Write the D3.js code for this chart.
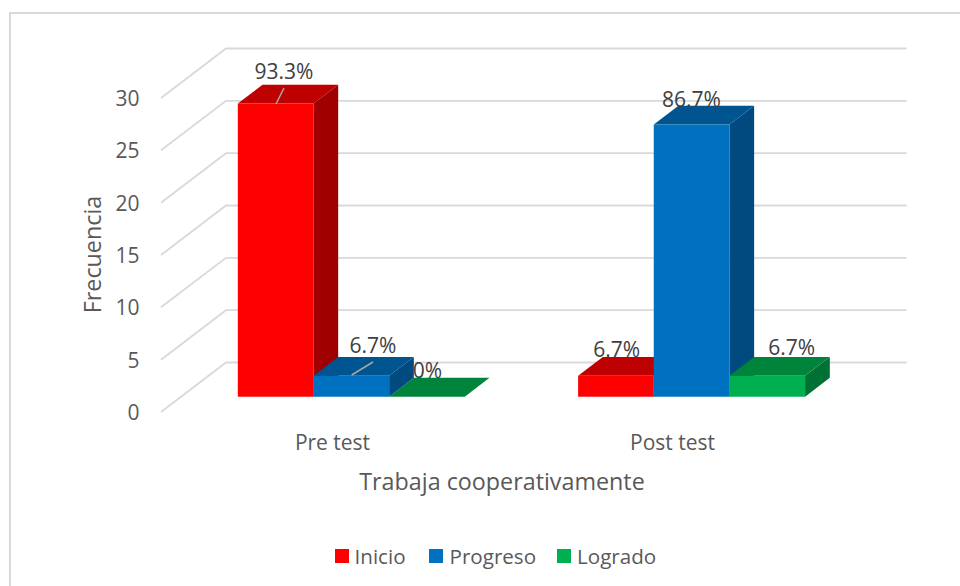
<!DOCTYPE html>
<html><head><meta charset="utf-8">
<script src="https://cdn.jsdelivr.net/npm/d3@7"></script>
<style>html,body{margin:0;padding:0;background:#fff}svg{display:block}text{font-family:"Open Sans",sans-serif}</style>
</head><body><svg id="c" width="960" height="586"></svg>
<script>
const categories = ["Pre test", "Post test"];
const seriesNames = ["Inicio", "Progreso", "Logrado"];
const inicio = [28, 2];
const progreso = [2, 26];
const logrado = [0, 2];
const labelsInicio = ["93.3%", "6.7%"];
const labelsProgreso = ["6.7%", "86.7%"];
const labelsLogrado = ["0%", "6.7%"];
const tickValues = [0, 5, 10, 15, 20, 25, 30];
const frontColors = ["#ff0000", "#0070c0", "#00b050"];
const topColors = ["#bf0000", "#00548f", "#00843c"];
const sideColors = ["#a00000", "#004a80", "#007034"];

const svg = d3.select("#c");
const W = 960, H = 586;
const grid = "#d9d9d9", txt = "#595959", lab = "#404040";

// oblique projection: depth 0 (front of the floor) to 1 (back wall)
const dxOf = d3.scaleLinear().domain([0, 1]).range([0, 65]);
const dyOf = d3.scaleLinear().domain([0, 1]).range([0, -49.5]);
const y = d3.scaleLinear().domain([0, 30]).range([412, 98]);
const x0 = d3.scaleBand().domain(categories).range([161, 841.6]);
const barPad = 0.1665;
const x1 = d3.scaleBand().domain(seriesNames)
  .range([x0.bandwidth() * barPad, x0.bandwidth() * (1 - barPad)]);
const dFront = 0.31, dBack = 0.69;
const P = (px, depth, val) => [px + dxOf(depth), y(val) + dyOf(depth)];
const poly = pts => "M" + pts.map(p => p.join(",")).join("L") + "Z";

// frame
svg.append("path").attr("d", `M${W},13 H10 V${H}`).attr("fill", "none")
  .attr("stroke", grid).attr("stroke-width", 2);

// gridlines
const [xL, xR] = x0.range();
const gg = svg.append("g").attr("fill", "none").attr("stroke", grid).attr("stroke-width", 1.8);
tickValues.forEach(t => {
  gg.append("path").attr("d", d3.line()([P(xL, 0, t), P(xL, 1, t), P(xR, 1, t)]));
});

// tick labels
svg.append("g").selectAll("text").data(tickValues).join("text")
  .attr("x", 139.5).attr("y", d => y(d))
  .attr("text-anchor", "end").attr("dominant-baseline", "central")
  .attr("font-size", 21).attr("fill", txt).text(d => d);

// bars: left to right, so each bar covers the side of its left neighbour
const series = [inicio, progreso, logrado];
const barG = svg.append("g");
const barGroups = {};
categories.forEach((c, ci) => seriesNames.forEach((s, si) => {
  const v = series[si][ci];
  const l = x0(c) + x1(s), r = l + x1.bandwidth();
  const g = barG.append("g");
  barGroups[c + "|" + s] = g;
  if (v > 0) g.append("path").attr("fill", sideColors[si])
    .attr("d", poly([P(r, dFront, 0), P(r, dBack, 0), P(r, dBack, v), P(r, dFront, v)]));
  g.append("path").attr("fill", topColors[si])
    .attr("d", poly([P(l, dFront, v), P(r, dFront, v), P(r, dBack, v), P(l, dBack, v)]));
  if (v > 0) g.append("path").attr("fill", frontColors[si])
    .attr("d", poly([P(l, dFront, 0), P(r, dFront, 0), P(r, dFront, v), P(l, dFront, v)]));
}));

// the "0%" label sits behind the neighbouring blue bar
barG.append("text").attr("x", 442).attr("y", 378).attr("text-anchor", "end")
  .attr("font-size", 21).attr("fill", lab).text(labelsLogrado[0]);
barGroups["Pre test|Progreso"].raise();

// category labels
const catCenter = [332.5, 672.5];
svg.append("g").selectAll("text").data(categories).join("text")
  .attr("x", (d, i) => catCenter[i]).attr("y", 442)
  .attr("text-anchor", "middle").attr("dominant-baseline", "central")
  .attr("font-size", 21).attr("fill", txt).text(d => d);

// axis titles
svg.append("text").attr("x", 502).attr("y", 481)
  .attr("text-anchor", "middle").attr("dominant-baseline", "central")
  .attr("font-size", 23.3).attr("fill", txt).text("Trabaja cooperativamente");
svg.append("text").attr("transform", "translate(92,254.5) rotate(-90)")
  .attr("text-anchor", "middle").attr("dominant-baseline", "central")
  .attr("font-size", 23.3).attr("fill", txt).text("Frecuencia");

// data labels and leader lines
const labelRows = [
  {t: labelsInicio[0], x: 284, y: 79},
  {t: labelsProgreso[0], x: 373, y: 352.5},
  {t: labelsInicio[1], x: 616.7, y: 357},
  {t: labelsProgreso[1], x: 691.5, y: 107},
  {t: labelsLogrado[1], x: 791.7, y: 355}
];
svg.append("g").selectAll("text").data(labelRows).join("text")
  .attr("x", d => d.x).attr("y", d => d.y)
  .attr("text-anchor", "middle").attr("font-size", 21).attr("fill", lab).text(d => d.t);
const leader = [[[276, 104], [284, 88]], [[351.7, 375], [373, 362]]];
svg.append("g").selectAll("path").data(leader).join("path")
  .attr("d", d => d3.line()(d)).attr("stroke", "#a6a6a6").attr("stroke-width", 1.6).attr("fill", "none");

// legend
const legX = [335, 429, 557], legT = [354.5, 449.5, 577];
const lg = svg.append("g");
seriesNames.forEach((s, i) => {
  lg.append("rect").attr("x", legX[i]).attr("y", 549).attr("width", 14).attr("height", 14).attr("fill", frontColors[i]);
  lg.append("text").attr("x", legT[i]).attr("y", 563.5)
    .attr("font-size", 20.6).attr("fill", txt).text(s);
});
</script></body></html>
